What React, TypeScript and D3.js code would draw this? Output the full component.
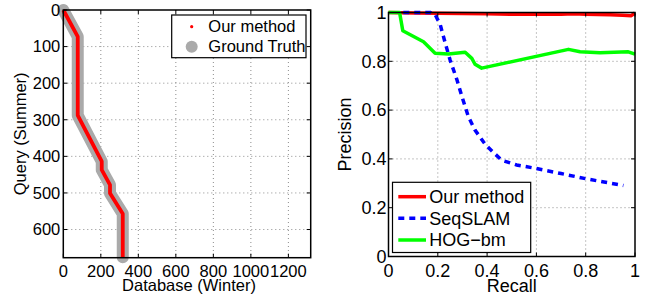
import React from "react";
import * as d3 from "d3";

// Left plot: matched path (database index vs query index)
const pathDatabase = [0, 77, 77, 205, 205, 249, 249, 317, 317];
const pathQuery = [0, 73, 288, 414, 437, 478, 501, 557, 676];
const leftXTicks = [0, 200, 400, 600, 800, 1000, 1200];
const leftYTicks = [0, 100, 200, 300, 400, 500, 600];

// Right plot: precision-recall curves
const oursRecall = [0, 0.1, 0.2, 0.3, 0.4, 0.5, 0.6, 0.7, 0.75, 0.8, 0.9, 0.95, 0.985, 1.0];
const oursPrecision = [1, 0.998, 0.997, 0.996, 0.995, 0.993, 0.993, 0.993, 0.995, 0.993, 0.991, 0.989, 0.987, 0.998];
const seqRecall = [0.06, 0.17, 0.19, 0.21, 0.23, 0.25, 0.277, 0.298, 0.324, 0.351, 0.392, 0.426, 0.46, 0.52, 0.588, 0.7, 0.804, 0.953];
const seqPrecision = [1, 1, 0.99, 0.95, 0.875, 0.805, 0.726, 0.655, 0.573, 0.518, 0.46, 0.426, 0.394, 0.375, 0.363, 0.34, 0.318, 0.291];
const hogRecall = [0, 0.045, 0.058, 0.142, 0.189, 0.243, 0.311, 0.338, 0.351, 0.378, 0.73, 0.777, 0.858, 0.973, 1.0];
const hogPrecision = [1, 1, 0.925, 0.88, 0.833, 0.83, 0.837, 0.812, 0.788, 0.772, 0.849, 0.839, 0.835, 0.839, 0.829];
const rightTicks = [0, 0.2, 0.4, 0.6, 0.8, 1];
const rightTickLabels = ["0", "0.2", "0.4", "0.6", "0.8", "1"];

const FONT = "'Liberation Sans', Arial, Helvetica, sans-serif";
const FS_LEFT = 16.5;
const FS_RIGHT = 18;

export default function App() {
  // Left plot scales
  const lx = d3.scaleLinear().domain([0, 1319]).range([63.3, 310.7]);
  const ly = d3.scaleLinear().domain([0, 677]).range([10, 257.7]);
  // Right plot scales
  const rx = d3.scaleLinear().domain([0, 1]).range([388.5, 635]);
  const ry = d3.scaleLinear().domain([0, 1]).range([256.5, 12.5]);

  const leftLine = d3
    .line<number>()
    .x((d) => lx(pathDatabase[d]))
    .y((d) => ly(pathQuery[d]));
  const idx = pathDatabase.map((_, i) => i);

  const mk = (xs: number[], ys: number[]) =>
    d3
      .line<number>()
      .x((i) => rx(xs[i]))
      .y((i) => ry(ys[i]))(xs.map((_, i) => i)) as string;

  const grid = "#8c8c8c";
  const tickLen = 4;

  const lX0 = lx.range()[0], lX1 = lx.range()[1];
  const lY0 = ly.range()[0], lY1 = ly.range()[1];
  const rX0 = rx.range()[0], rX1 = rx.range()[1];
  const rY0 = ry.range()[1], rY1 = ry.range()[0];

  return (
    <svg
      width={650}
      height={301}
      style={{ position: "absolute", left: 0, top: 0, background: "#fff" }}
      fontFamily={FONT}
    >
      {/* ===== Left plot ===== */}
      <g fontSize={FS_LEFT}>
        {leftXTicks.filter((t) => t > 0).map((t) => (
          <line key={"lgx" + t} x1={lx(t)} x2={lx(t)} y1={lY0} y2={lY1} stroke={grid} strokeWidth={1} strokeDasharray="1,3" />
        ))}
        {leftYTicks.filter((t) => t > 0).map((t) => (
          <line key={"lgy" + t} x1={lX0} x2={lX1} y1={ly(t)} y2={ly(t)} stroke={grid} strokeWidth={1} strokeDasharray="1,3" />
        ))}
        <path d={leftLine(idx) as string} fill="none" stroke="#aaaaaa" strokeWidth={12} strokeLinejoin="round" strokeLinecap="round" />
        <path d={leftLine(idx) as string} fill="none" stroke="#ff0000" strokeWidth={3.8} strokeLinejoin="round" />
        {leftXTicks.map((t) => (
          <g key={"ltx" + t}>
            <line x1={lx(t)} x2={lx(t)} y1={lY1} y2={lY1 - tickLen} stroke="#000" />
            <line x1={lx(t)} x2={lx(t)} y1={lY0} y2={lY0 + tickLen} stroke="#000" />
            <text x={lx(t)} y={lY1 + 19} textAnchor="middle">{t}</text>
          </g>
        ))}
        {leftYTicks.map((t) => (
          <g key={"lty" + t}>
            <line x1={lX0} x2={lX0 + tickLen} y1={ly(t)} y2={ly(t)} stroke="#000" />
            <line x1={lX1} x2={lX1 - tickLen} y1={ly(t)} y2={ly(t)} stroke="#000" />
            <text x={lX0 - 3} y={ly(t)} dy="0.35em" textAnchor="end">{t}</text>
          </g>
        ))}
        <rect x={lX0} y={lY0} width={lX1 - lX0} height={lY1 - lY0} fill="none" stroke="#000" strokeWidth={1.5} />
        <text x={(lX0 + lX1) / 2 + 2} y={291} textAnchor="middle">Database (Winter)</text>
        <text transform={`translate(26,${(lY0 + lY1) / 2}) rotate(-90)`} textAnchor="middle">Query (Summer)</text>
        <rect x={171.7} y={15} width={134.3} height={42.7} fill="#fff" stroke="#000" strokeWidth={1.2} />
        <circle cx={191.7} cy={26.7} r={1.6} fill="#ff0000" />
        <text x={208.3} y={26.7} dy="0.35em">Our method</text>
        <circle cx={191.7} cy={46.7} r={6} fill="#aaaaaa" />
        <text x={208.3} y={46.7} dy="0.35em">Ground Truth</text>
      </g>

      {/* ===== Right plot ===== */}
      <g fontSize={FS_RIGHT}>
        {rightTicks.filter((t) => t > 0 && t < 1).map((t) => (
          <g key={"rg" + t}>
            <line x1={rx(t)} x2={rx(t)} y1={rY0} y2={rY1} stroke={grid} strokeWidth={1} strokeDasharray="1,3" />
            <line x1={rX0} x2={rX1} y1={ry(t)} y2={ry(t)} stroke={grid} strokeWidth={1} strokeDasharray="1,3" />
          </g>
        ))}
        <path d={mk(oursRecall, oursPrecision)} fill="none" stroke="#ff0000" strokeWidth={3.5} strokeLinejoin="round" />
        <path d={mk(seqRecall, seqPrecision)} fill="none" stroke="#0000ff" strokeWidth={3.5} strokeDasharray="6,5" />
        <path d={mk(hogRecall, hogPrecision)} fill="none" stroke="#00ff00" strokeWidth={3.5} strokeLinejoin="round" />
        {rightTicks.map((t, i) => (
          <g key={"rt" + t}>
            <line x1={rx(t)} x2={rx(t)} y1={rY1} y2={rY1 - tickLen} stroke="#000" />
            <line x1={rx(t)} x2={rx(t)} y1={rY0} y2={rY0 + tickLen} stroke="#000" />
            <line x1={rX0} x2={rX0 + tickLen} y1={ry(t)} y2={ry(t)} stroke="#000" />
            <line x1={rX1} x2={rX1 - tickLen} y1={ry(t)} y2={ry(t)} stroke="#000" />
            <text x={rx(t)} y={rY1 + 20} textAnchor="middle">{rightTickLabels[i]}</text>
            <text x={rX0 - 2} y={ry(t)} dy="0.35em" textAnchor="end">{rightTickLabels[i]}</text>
          </g>
        ))}
        <rect x={rX0} y={rY0} width={rX1 - rX0} height={rY1 - rY0} fill="none" stroke="#000" strokeWidth={1.5} />
        <text x={(rX0 + rX1) / 2} y={292} textAnchor="middle">Recall</text>
        <text transform={`translate(351,${(rY0 + rY1) / 2}) rotate(-90)`} textAnchor="middle">Precision</text>
        <rect x={392.5} y={182.3} width={138.2} height={70.2} fill="#fff" stroke="#000" strokeWidth={1.2} />
        <line x1={398.3} x2={426} y1={196.7} y2={196.7} stroke="#ff0000" strokeWidth={3.5} />
        <text x={429.3} y={196.7} dy="0.35em">Our method</text>
        <line x1={398.3} x2={426} y1={218.3} y2={218.3} stroke="#0000ff" strokeWidth={3.5} strokeDasharray="6,5" />
        <text x={429.3} y={218.3} dy="0.35em">SeqSLAM</text>
        <line x1={398.3} x2={426} y1={240} y2={240} stroke="#00ff00" strokeWidth={3.5} />
        <text x={429.3} y={240} dy="0.35em">HOG−bm</text>
      </g>
    </svg>
  );
}
